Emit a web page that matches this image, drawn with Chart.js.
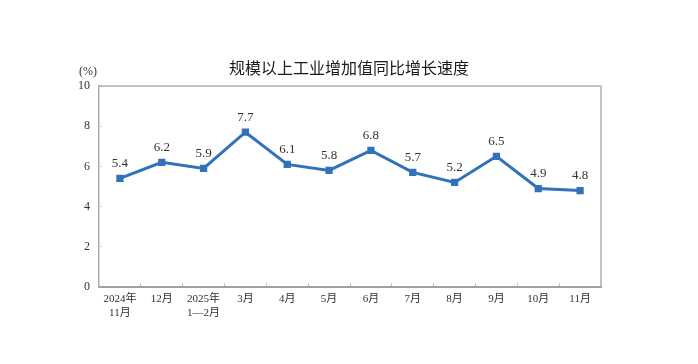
<!DOCTYPE html>
<html><head><meta charset="utf-8">
<script src="https://cdn.jsdelivr.net/npm/chart.js@4/dist/chart.umd.min.js"></script>
<style>html,body{margin:0;padding:0;background:#fff}#wrap{width:698px;height:364px}</style>
</head><body><div id="wrap"><canvas id="c" width="698" height="364"></canvas></div>
<script>
const categories = [["2024年","11月"],"12月",["2025年","1—2月"],"3月","4月","5月","6月","7月","8月","9月","10月","11月"];
const growthValues = [5.4,6.2,5.9,7.7,6.1,5.8,6.8,5.7,5.2,6.5,4.9,4.8];
const yTicks = [0,2,4,6,8,10];
const titleText = "规模以上工业增加值同比增长速度";
const unitText = "(%)";

const serif = '"Liberation Serif","Noto Sans CJK SC",serif';

const boxPlugin = {
  id: 'boxPlugin',
  afterDraw(chart) {
    const {ctx, chartArea: a} = chart;
    ctx.save();
    ctx.strokeStyle = '#b0b0b0';
    ctx.lineWidth = 1.5;
    ctx.beginPath();
    ctx.moveTo(a.left, a.top); ctx.lineTo(a.right, a.top); ctx.lineTo(a.right, a.bottom);
    ctx.stroke();
    // title
    ctx.fillStyle = '#1a1a1a';
    ctx.font = '16px "Noto Sans CJK SC",sans-serif';
    ctx.textAlign = 'center';
    ctx.textBaseline = 'middle';
    ctx.fillText(titleText, 349, 68);
    // unit label
    ctx.fillStyle = '#333';
    ctx.font = '12px ' + serif;
    ctx.fillText(unitText, 88, 72);
    // data labels
    const meta = chart.getDatasetMeta(0);
    ctx.font = '13px ' + serif;
    ctx.textBaseline = 'bottom';
    meta.data.forEach((pt, i) => {
      ctx.fillText(growthValues[i].toFixed(1), pt.x, pt.y - 8);
    });
    ctx.restore();
  }
};

new Chart(document.getElementById('c'), {
  type: 'line',
  data: {
    labels: categories,
    datasets: [{
      data: growthValues,
      borderColor: '#3272b8',
      backgroundColor: '#3272b8',
      borderWidth: 3,
      pointStyle: 'rect',
      pointRadius: 3,
      pointHoverRadius: 3,
      tension: 0
    }]
  },
  options: {
    responsive: false,
    animation: false,
    events: [],
    layout: { padding: { left: 0, right: 97, top: 86, bottom: 0 } },
    plugins: {
      legend: { display: false },
      tooltip: { enabled: false },
      title: { display: false }
    },
    scales: {
      x: {
        offset: true,
        grid: { display: true, offset: true, drawOnChartArea: false, drawTicks: true, tickLength: -4, color: '#c8c8c8', lineWidth: 1 },
        border: { display: true, color: '#a0a0a0', width: 2 },
        ticks: { color: '#333', font: { size: 11, family: serif, lineHeight: 1.2 }, padding: 10, maxRotation: 0, autoSkip: false },
        afterFit(s) { s.height = 77; }
      },
      y: {
        min: 0, max: 10,
        afterBuildTicks(s) { s.ticks = yTicks.map(v => ({value: v})); },
        grid: { display: true, drawOnChartArea: false, drawTicks: true, tickLength: -3, color: '#d8d8d8' },
        border: { display: true, color: '#b0b0b0', width: 1.5 },
        ticks: { color: '#333', font: { size: 12, family: serif }, padding: 12 },
        afterFit(s) { s.width = 99; }
      }
    }
  },
  plugins: [boxPlugin]
});
</script></body></html>
